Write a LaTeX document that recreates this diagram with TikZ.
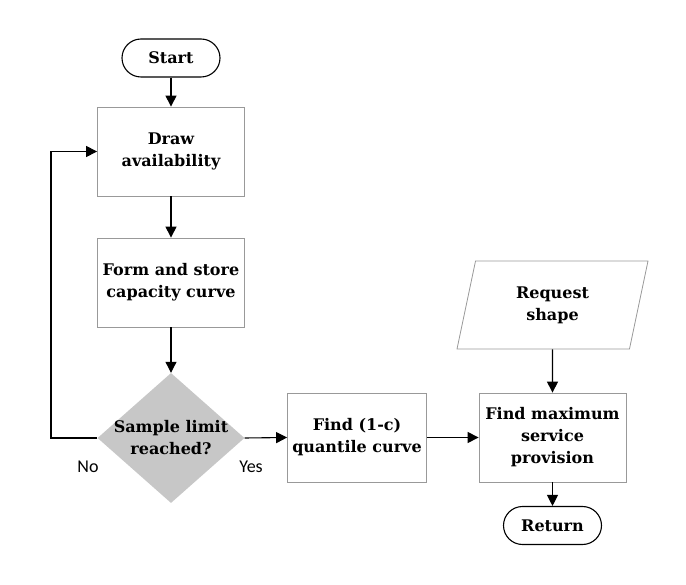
\documentclass[tikz,border=0pt]{standalone}
\usepackage{fontspec}
\setmainfont{DejaVu Serif}
\newfontfamily\labelfont{Carlito}
\usetikzlibrary{shapes.geometric, arrows.meta, positioning}

\begin{document}
\begin{tikzpicture}[
          x=1pt, y=-1pt,
          font=\fontsize{16}{22}\selectfont\bfseries,
          termnode/.style={rectangle, draw=black, line width=1.1pt, rounded corners=19pt, minimum width=98pt, minimum height=38pt, align=center},
          procnode/.style={rectangle, draw=black!40, fill=white, line width=0.8pt, inner xsep=2pt, minimum width=147pt, minimum height=89pt, align=center},
          decnode/.style={diamond, fill=black!22, inner sep=-12pt, aspect=1.13, minimum width=147pt, minimum height=130pt, align=center},
          ionode/.style={trapezium, trapezium left angle=67, trapezium right angle=113, trapezium stretches body, draw=black!40, line width=0.8pt, minimum width=191pt, minimum height=88pt, align=center},
          yesno/.style={font=\fontsize{18}{20}\selectfont\labelfont},
          flow/.style={-{Triangle[length=11pt, width=11pt]}, line width=1.1pt, black}
        ]

        \useasboundingbox (0,0) rectangle (686,585);

        % ----------------------------------------------------
        % CỘT TRÁI: VÒNG LẤY MẪU
        % ----------------------------------------------------
        \node (start) at (171, 58) [termnode] {Start};
        \node (drawav) at (171, 151.5) [procnode] {Draw\\availability};
        \node (store) at (171, 282.5) [procnode] {Form and store\\capacity curve};
        \node (limit) at (171, 438) [decnode] {Sample limit\\reached?};
        \coordinate (loop) at (51, 438);

        \node (no) at (88, 467) [yesno] {No};
        \node (yes) at (251, 467) [yesno] {Yes};

        % ----------------------------------------------------
        % CỘT GIỮA & PHẢI
        % ----------------------------------------------------
        \node (quantile) at (357, 437.5) [procnode, minimum width=139pt] {Find (1-c)\\quantile curve};
        \node (request) at (552.5, 305) [ionode] {Request\\shape};
        \node (maxprov) at (552.5, 437.5) [procnode] {Find maximum\\service\\provision};
        \node (return) at (552.5, 525.5) [termnode] {Return};

        % ----------------------------------------------------
        % MŨI TÊN KẾT NỐI
        % ----------------------------------------------------
        \draw[flow] (start) -- (drawav);
        \draw[flow] (drawav) -- (store);
        \draw[flow] (store) -- (limit);
        \draw[flow] (limit.west) -- (loop) |- (drawav.west);
        \draw[flow] (limit.east) -- (quantile.west);
        \draw[flow] (quantile) -- (maxprov);
        \draw[flow] (request.south) -- (maxprov.north);
        \draw[flow] (maxprov) -- (return);
      \end{tikzpicture}
\end{document}
